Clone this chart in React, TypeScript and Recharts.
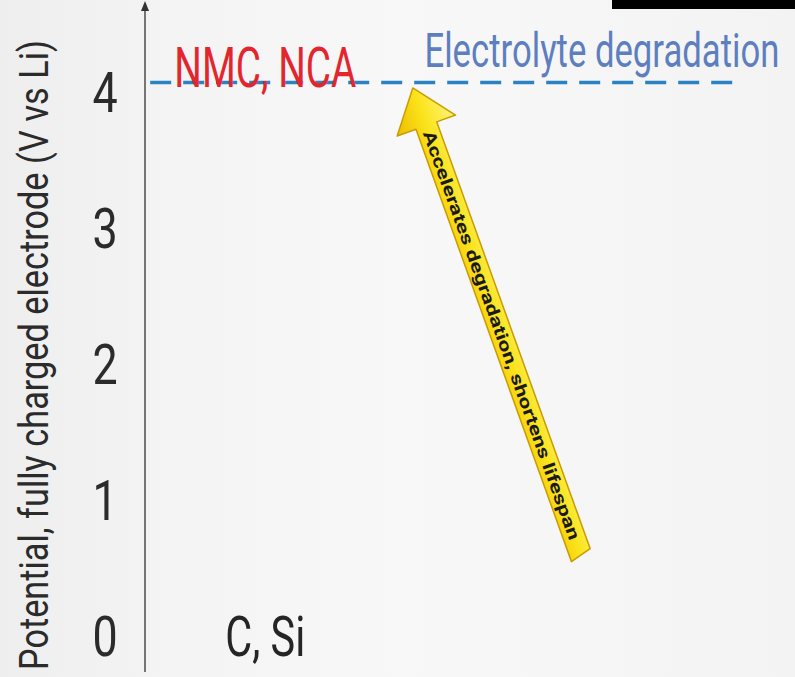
import { ComposedChart, ReferenceLine, Scatter, XAxis, YAxis } from 'recharts'

// potentials in V vs Li
const potentialTicks = [0, 1, 2, 3, 4]
const electrolyteLimit = 4.07
const limitSpan = [0.008, 0.908]
const anodeData = [{ name: 'C, Si', x: 0.185, potential: 0 }]
const cathodeData = [{ name: 'NMC, NCA', x: 0.185, potential: 4.18 }]
const electrolyteData = [{ name: 'Electrolyte degradation', x: 0.703, potential: 4.31 }]
const arrowTail = { x: 0.672, y: 0.574 }
const arrowTip = { x: 0.412, y: 4.03 }
const arrowText = 'Accelerates degradation, shortens lifespan'
const axisTitle = 'Potential, fully charged electrode (V vs Li)'

const FONT = 'Roboto, sans-serif'

// narrow font look: small size stretched vertically, width pinned with textLength
function tallText(text: string, cx: number, cy: number, size: number, k: number, width: number, color: string) {
  const base = cy + size * k * 0.355
  return (
    <text
      transform={`translate(${cx},${base}) scale(1,${k})`}
      textAnchor="middle"
      fontFamily={FONT}
      fontSize={size}
      fill={color}
      textLength={width}
      lengthAdjust="spacingAndGlyphs"
    >
      {text}
    </text>
  )
}

const renderTick = (props: any) => {
  const { x, y, payload } = props
  return (
    <text
      transform={`translate(${x - 32},${y + 20}) scale(0.8,1)`}
      textAnchor="middle"
      fontFamily={FONT}
      fontSize={56}
      fill="#2b2b2b"
    >
      {payload.value}
    </text>
  )
}

const renderTitle = (props: any) => {
  const vb = props.viewBox
  const bx = vb.x + 48
  const cy = vb.y + vb.height / 2 + 14
  return (
    <text
      transform={`translate(${bx},${cy}) rotate(-90) scale(1,1.35)`}
      textAnchor="middle"
      fontFamily={FONT}
      fontSize={30}
      fill="#2b2b2b"
      textLength={630}
      lengthAdjust="spacingAndGlyphs"
    >
      {axisTitle}
    </text>
  )
}

const axisLineShape = (props: any) => {
  const { x1, y1, y2 } = props
  const top = Math.min(y1, y2)
  const bottom = Math.max(y1, y2)
  return (
    <g>
      <line x1={x1} y1={top - 4} x2={x1} y2={bottom} stroke="#555" strokeWidth={1.6} />
      <polygon points={`${x1},${top - 9} ${x1 - 4},${top + 1} ${x1 + 4},${top + 1}`} fill="#333" />
    </g>
  )
}

const arrowShape = (props: any) => {
  const { x1, y1, x2, y2 } = props
  // x2,y2 is the tip, x1,y1 the tail
  const dx = x1 - x2
  const dy = y1 - y2
  const len = Math.sqrt(dx * dx + dy * dy)
  const deg = (Math.atan2(dy, dx) * 180) / Math.PI
  const H = 40
  const W = 31
  const w = 11
  const pts = [
    [0, 0],
    [H, -W],
    [H, -w],
    [len - 6, -w],
    [len, w],
    [H, w],
    [H, W],
  ]
    .map((p) => p.join(','))
    .join(' ')
  const textLen = len - H - 26
  return (
    <g transform={`translate(${x2},${y2}) rotate(${deg})`}>
      <defs>
        <linearGradient id="arrowFill" x1="0" y1="0" x2="0" y2="1">
          <stop offset="0%" stopColor="#fff37a" />
          <stop offset="50%" stopColor="#fbe31a" />
          <stop offset="100%" stopColor="#ecbc00" />
        </linearGradient>
      </defs>
      <polygon points={pts} fill="url(#arrowFill)" stroke="#c99c00" strokeWidth={1.5} strokeLinejoin="round" />
      <text
        transform={`translate(${H + 6 + textLen / 2},6) scale(1,1.3)`}
        textAnchor="middle"
        fontFamily={FONT}
        fontWeight={700}
        fontSize={13}
        fill="#1a1a1a"
        textLength={textLen}
        lengthAdjust="spacingAndGlyphs"
      >
        {arrowText}
      </text>
    </g>
  )
}

const anodeLabel = (props: any) => tallText(props.payload.name, props.cx, props.cy, 40, 1.4, 80, '#252525')
const cathodeLabel = (props: any) => tallText(props.payload.name, props.cx, props.cy, 40, 1.4, 182, '#e3262d')
const electrolyteLabel = (props: any) =>
  tallText(props.payload.name, props.cx, props.cy, 33, 1.45, 355, '#5d7fbf')

export default function App() {
  return (
    <div
      style={{
        position: 'fixed',
        left: 0,
        top: 0,
        width: 795,
        height: 677,
        background: 'linear-gradient(90deg, #eeeeee 0px, #f3f3f3 140px, #f8f8f8 400px, #f3f3f3 795px)',
      }}
    >
      <div style={{ position: 'absolute', left: 612, top: 0, width: 183, height: 9, background: '#000' }} />
      <ComposedChart width={795} height={677} margin={{ top: 10, right: 0, bottom: 5, left: 0 }}>
        <XAxis type="number" dataKey="x" domain={[0, 1]} hide />
        <YAxis
          type="number"
          dataKey="potential"
          domain={[-0.265, 4.603]}
          ticks={potentialTicks}
          width={145}
          axisLine={false}
          tickLine={false}
          tick={renderTick}
          label={{ value: axisTitle, content: renderTitle }}
        />
        <ReferenceLine x={0} shape={axisLineShape} />
        <ReferenceLine
          segment={[
            { x: limitSpan[0], y: electrolyteLimit },
            { x: limitSpan[1], y: electrolyteLimit },
          ]}
          stroke="#2a82c2"
          strokeWidth={3.5}
          strokeDasharray="21 12"
        />
        <Scatter data={anodeData} dataKey="potential" shape={anodeLabel} isAnimationActive={false} />
        <Scatter data={cathodeData} dataKey="potential" shape={cathodeLabel} isAnimationActive={false} />
        <Scatter data={electrolyteData} dataKey="potential" shape={electrolyteLabel} isAnimationActive={false} />
        <ReferenceLine segment={[arrowTail, arrowTip]} shape={arrowShape} />
      </ComposedChart>
    </div>
  )
}
